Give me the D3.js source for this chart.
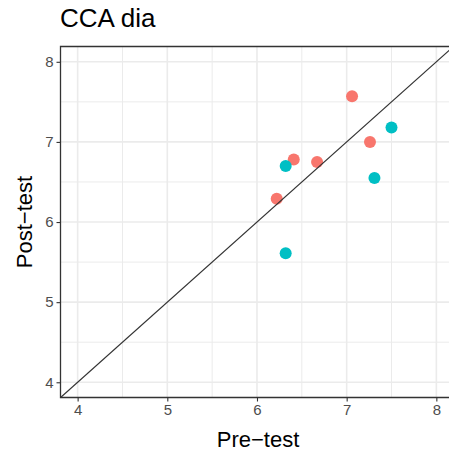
<!DOCTYPE html>
<html>
<head>
<meta charset="utf-8">
<script src="https://cdn.jsdelivr.net/npm/d3@7"></script>
<style>
  html, body { margin: 0; padding: 0; background: #fff; }
  svg { display: block; font-family: "Liberation Sans", Arial, sans-serif; }
</style>
</head>
<body>
<svg id="chart" width="449" height="456"></svg>
<script>
// values
const preTest  = [7.06, 7.26, 6.41, 6.67, 6.22, 7.50, 6.32, 7.31, 6.32]
const postTest = [7.57, 7.00, 6.78, 6.75, 6.29, 7.18, 6.70, 6.55, 5.61]
const group    = ["a", "a", "a", "a", "a", "b", "b", "b", "b"]
const xTicks = [4, 5, 6, 7, 8]
const yTicks = [4, 5, 6, 7, 8]
const minorTicks = [4.5, 5.5, 6.5, 7.5]

const svg = d3.select("#chart")
const pLeft = 60.5, pRight = 449.5, pTop = 46.5, pBottom = 397.5

const x = d3.scaleLinear().domain([3.809, 8.13]).range([pLeft, 448])
const y = d3.scaleLinear().domain([3.81, 8.191]).range([pBottom, pTop])
const color = d3.scaleOrdinal().domain(["a", "b"]).range(["#F8766D", "#00BFC4"])

// grid
const grid = svg.append("g")
grid.selectAll(".minx").data(minorTicks).join("line")
  .attr("x1", d => x(d)).attr("x2", d => x(d)).attr("y1", pTop).attr("y2", pBottom)
  .attr("stroke", "#ebebeb").attr("stroke-width", 1)
grid.selectAll(".miny").data(minorTicks).join("line")
  .attr("y1", d => y(d)).attr("y2", d => y(d)).attr("x1", pLeft).attr("x2", pRight)
  .attr("stroke", "#ebebeb").attr("stroke-width", 1)
grid.selectAll(".majx").data(xTicks).join("line")
  .attr("x1", d => x(d)).attr("x2", d => x(d)).attr("y1", pTop).attr("y2", pBottom)
  .attr("stroke", "#ebebeb").attr("stroke-width", 1.6)
grid.selectAll(".majy").data(yTicks).join("line")
  .attr("y1", d => y(d)).attr("y2", d => y(d)).attr("x1", pLeft).attr("x2", pRight)
  .attr("stroke", "#ebebeb").attr("stroke-width", 1.6)

// points
const pts = preTest.map((v, i) => ({ x: v, y: postTest[i], g: group[i] }))
svg.append("g").selectAll("circle").data(pts).join("circle")
  .attr("cx", d => x(d.x)).attr("cy", d => y(d.y)).attr("r", 6)
  .attr("fill", d => color(d.g))

// identity line, clipped to the panel
svg.append("clipPath").attr("id", "panel").append("rect")
  .attr("x", pLeft).attr("y", pTop).attr("width", pRight - pLeft).attr("height", pBottom - pTop)
const lo = 3.81, hi = 8.3
svg.append("line")
  .attr("clip-path", "url(#panel)")
  .attr("x1", x(lo)).attr("y1", y(lo)).attr("x2", x(hi)).attr("y2", y(hi))
  .attr("stroke", "#333").attr("stroke-width", 1.1)

// panel border (right side falls off the picture)
svg.append("path")
  .attr("d", `M${pRight},${pTop}H${pLeft}V${pBottom}H${pRight}`)
  .attr("fill", "none").attr("stroke", "#333").attr("stroke-width", 1.3)

// axes
const xAxis = svg.append("g").attr("transform", `translate(0,${pBottom})`)
  .call(d3.axisBottom(x).tickValues(xTicks).tickFormat(d3.format("d")).tickSize(4).tickPadding(3))
const yAxis = svg.append("g").attr("transform", `translate(${pLeft},0)`)
  .call(d3.axisLeft(y).tickValues(yTicks).tickFormat(d3.format("d")).tickSize(4).tickPadding(3))
;[xAxis, yAxis].forEach(a => {
  a.select(".domain").remove()
  a.selectAll(".tick line").attr("stroke", "#333").attr("stroke-width", 1.1)
  a.selectAll(".tick text").attr("fill", "#4d4d4d").attr("font-size", 15)
    .attr("font-family", "Liberation Sans, Arial, sans-serif")
})

// titles
svg.append("text").attr("x", 60).attr("y", 27)
  .attr("font-size", 26).attr("fill", "#000").text("CCA dia")
svg.append("text").attr("x", 258).attr("y", 446.5).attr("text-anchor", "middle")
  .attr("font-size", 22).attr("fill", "#000").text("Pre\u2212test")
svg.append("text").attr("transform", `translate(31.5,${(pTop + pBottom) / 2}) rotate(-90)`)
  .attr("text-anchor", "middle").attr("font-size", 22).attr("fill", "#000").text("Post\u2212test")
</script>
</body>
</html>
